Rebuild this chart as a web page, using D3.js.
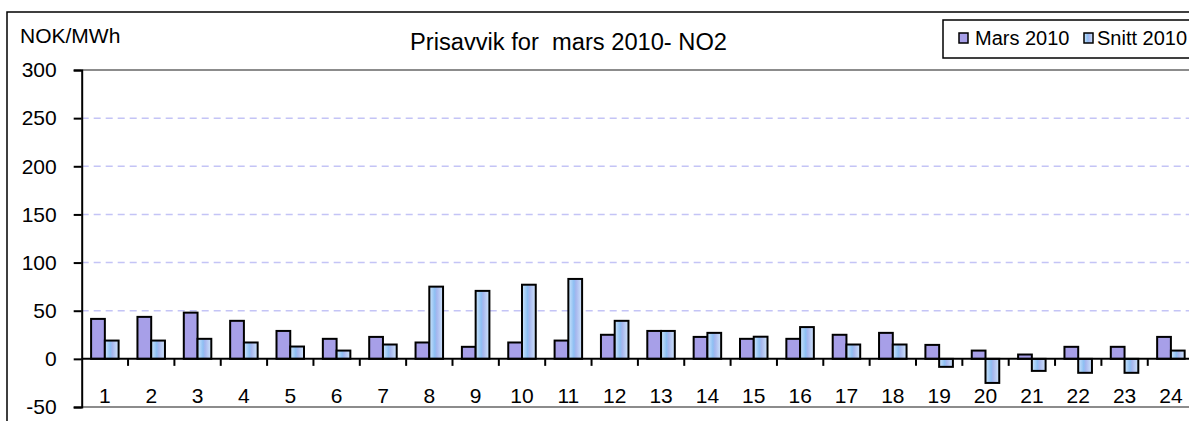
<!DOCTYPE html>
<html>
<head>
<meta charset="utf-8">
<script src="https://cdn.jsdelivr.net/npm/d3@7"></script>
<style>
html,body{margin:0;padding:0;background:#fff;}
svg{display:block;font-family:"Liberation Sans",Arial,sans-serif;}
</style>
</head>
<body>
<svg id="chart" width="1189" height="421"></svg>
<script>
const categories = ["1","2","3","4","5","6","7","8","9","10","11","12","13","14","15","16","17","18","19","20","21","22","23","24"];
const seriesNames = ["Mars 2010","Snitt 2010"];
const mars2010 = [41.5,43.6,48,39.5,29,20.8,22.8,17,12.5,17,19,25,29,22.8,20.8,20.8,25,27,14.5,8.6,4.5,12.5,12.5,22.8];
const snitt2010 = [19,19,20.8,17,12.8,8.6,14.9,75,70.6,77,83,39.5,29,27,23,33,14.9,14.9,-8.3,-25,-12.5,-14.5,-14.5,8.6];
const yTicks = [-50,0,50,100,150,200,250,300];
const gridTicks = [50,100,150,200,250];
const title = "Prisavvik for  mars 2010- NO2";
const unitLabel = "NOK/MWh";

(function(){
const svg = d3.select("#chart");
const FONT = "'Liberation Sans',Arial,sans-serif";

const defs = svg.append("defs");
const g1 = defs.append("linearGradient").attr("id","snittGrad").attr("x1","0").attr("x2","1").attr("y1","0").attr("y2","0");
g1.append("stop").attr("offset","0%").attr("stop-color","#cfe5fb");
g1.append("stop").attr("offset","40%").attr("stop-color","#8dbff3");
g1.append("stop").attr("offset","55%").attr("stop-color","#a6b6ee");
g1.append("stop").attr("offset","100%").attr("stop-color","#cfe5fb");

svg.append("rect").attr("x",7).attr("y",12).attr("width",1300).attr("height",500)
  .attr("fill","#fff").attr("stroke","#000").attr("stroke-width",1.5);

const pLeft = 81.7, pRight = 81.7 + 24*46.35, pTop = 70, pBottom = 407;
const y = d3.scaleLinear().domain([-50,300]).range([pBottom, pTop]);
const x0 = d3.scaleBand().domain(categories).range([pLeft, pRight]).padding(0);
const x1 = d3.scaleBand().domain(seriesNames).range([9.4, 36.9]).padding(0);

svg.append("g").selectAll("line").data(gridTicks).join("line")
  .attr("x1",pLeft).attr("x2",pRight).attr("y1",d=>y(d)).attr("y2",d=>y(d))
  .attr("stroke","#c4c4f6").attr("stroke-width",1.5).attr("stroke-dasharray","7,5");

svg.append("line").attr("x1",pLeft).attr("x2",pRight).attr("y1",y(300)).attr("y2",y(300))
  .attr("stroke","#8c8c8c").attr("stroke-width",2);
svg.append("line").attr("x1",pLeft).attr("x2",pRight).attr("y1",y(-50)).attr("y2",y(-50))
  .attr("stroke","#8c8c8c").attr("stroke-width",2);

const bars = svg.append("g");
categories.forEach((c,i)=>{
  const vals = [mars2010[i], snitt2010[i]];
  vals.forEach((v,j)=>{
    bars.append("rect")
      .attr("x", x0(c)+x1(seriesNames[j]))
      .attr("width", x1.bandwidth())
      .attr("y", y(Math.max(0,v)))
      .attr("height", Math.abs(y(v)-y(0)))
      .attr("fill", j===0 ? "#a79fe8" : "url(#snittGrad)")
      .attr("stroke","#000").attr("stroke-width",2);
  });
});

const yAxis = d3.axisLeft(y).tickValues(yTicks).tickSize(8).tickPadding(17).tickFormat(d=>String(d));
const ya = svg.append("g").attr("transform",`translate(${pLeft},0)`).call(yAxis);
ya.select(".domain").attr("stroke","#000").attr("stroke-width",2);
ya.selectAll(".tick line").attr("stroke","#000").attr("stroke-width",2);
ya.selectAll("text").attr("font-size",21).attr("font-family",FONT).attr("fill","#000");

svg.append("line").attr("x1",pLeft).attr("x2",pRight).attr("y1",y(0)).attr("y2",y(0))
  .attr("stroke","#000").attr("stroke-width",2);
svg.append("g").selectAll("line").data(categories.slice(1)).join("line")
  .attr("x1",d=>x0(d)).attr("x2",d=>x0(d)).attr("y1",y(0)).attr("y2",y(0)+7)
  .attr("stroke","#000").attr("stroke-width",2);

const xAxis = d3.axisBottom(x0).tickSize(0).tickPadding(29);
const xa = svg.append("g").attr("transform",`translate(0,${y(0)})`).call(xAxis);
xa.select(".domain").remove();
xa.selectAll("text").attr("font-size",21).attr("font-family",FONT).attr("fill","#000");

svg.append("text").attr("x",20).attr("y",43).attr("font-size",21).attr("font-family",FONT).text(unitLabel);

svg.append("text").attr("x",410).attr("y",50).attr("font-size",23).attr("font-family",FONT)
  .attr("xml:space","preserve").attr("textLength",317).attr("lengthAdjust","spacingAndGlyphs").text(title);

const lg = svg.append("g");
lg.append("rect").attr("x",943).attr("y",20).attr("width",300).attr("height",38)
  .attr("fill","#fff").attr("stroke","#000").attr("stroke-width",1.5);
const legendX = [959, 1084];
const legendTextX = [975, 1097];
seriesNames.forEach((s,j)=>{
  lg.append("rect").attr("x",legendX[j]).attr("y",33).attr("width",9).attr("height",10)
    .attr("fill", j===0 ? "#a79fe8" : "url(#snittGrad)").attr("stroke","#000").attr("stroke-width",1.5);
  lg.append("text").attr("x",legendTextX[j]).attr("y",45).attr("font-size",20).attr("font-family",FONT).text(s);
});
})();
</script>
</body>
</html>
